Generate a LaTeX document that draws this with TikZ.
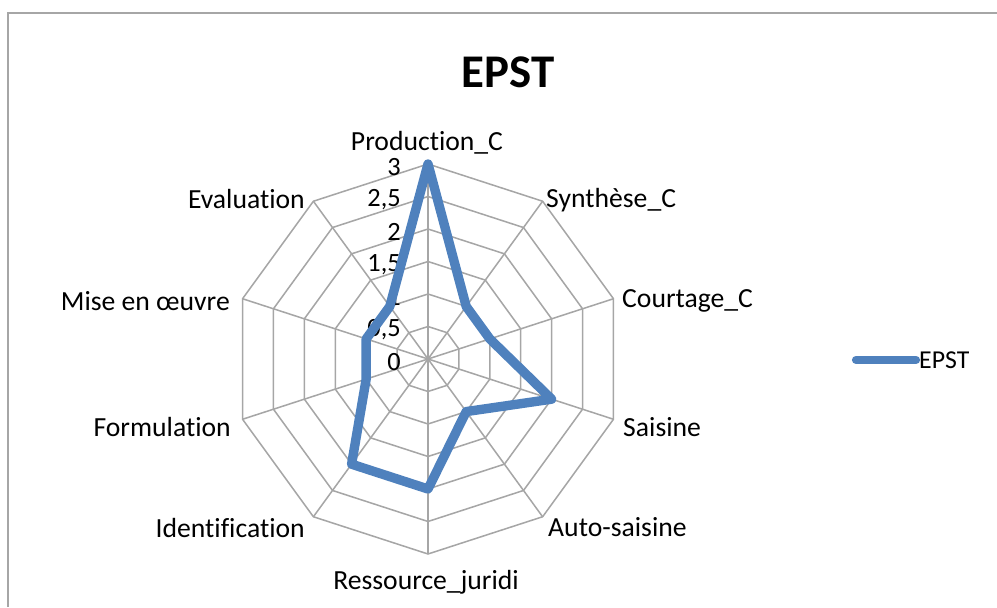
\documentclass[tikz,border=0pt]{standalone}
\usepackage{fontspec}
\setmainfont[Ligatures=NoCommon]{Carlito}
\definecolor{serieblue}{HTML}{4F81BD}
\definecolor{gridgray}{HTML}{A6A6A6}
\tikzset{
	grid line/.style={draw=gridgray, line width=1.3pt},
	serie line/.style={draw=serieblue, line width=8pt, line join=round},
	axis label/.style={font=\fontsize{23.6}{28}\selectfont, inner sep=0pt},
	tick label/.style={font=\fontsize{22.5}{26}\selectfont, inner sep=0pt, anchor=east},
}
\begin{document}
\begin{tikzpicture}[x=0.03cm,y=0.03cm]
	\useasboundingbox (0,0) rectangle (997,607);
	% chart frame
	\draw[gridgray, line width=1.8pt] (8,0) -- (8,594) -- (997,594);
	\node[font=\bfseries\fontsize{40}{48}\selectfont] (title) at (508,535) {EPST};
	\begin{scope}[shift={(428,248)}]
		\coordinate (O) at (0,0);
		% rings and spokes
		\foreach \k in {1,...,6}
			\draw[grid line] (90:\k*32.5) \foreach \a in {54,18,...,-234} { -- (\a:\k*32.5) } -- cycle;
		\foreach \a [count=\i] in {90,54,...,-234}
			\draw[grid line] (O) -- (\a:195) coordinate (tip\i);
		% scale
		\foreach \t/\lab in {0/0, 1/{0,5}, 2/1, 3/{1,5}, 4/2, 5/{2,5}, 6/3}
			\node[tick label] (tick\t) at (-27,\t*32.5-3) {\lab};
		% values
		\foreach \a/\v [count=\i] in {90/3, 54/1, 18/1, -18/2, -54/1, -90/2, -126/2, -162/1, -198/1, -234/1}
			\coordinate (p\i) at (\a:\v*65);
		\draw[serie line] (p1) -- (p2) -- (p3) -- (p4) -- (p5) -- (p6) -- (p7) -- (p8) -- (p9) -- (p10) -- cycle;
		% axis names
		\node[axis label] (lab1) at (-1,216) {Production\_C};
		\node[axis label, anchor=west] (lab2) at (118,159) {Synthèse\_C};
		\node[axis label, anchor=west] (lab3) at (194,58) {Courtage\_C};
		\node[axis label, anchor=west] (lab4) at (195,-68) {Saisine};
		\node[axis label, anchor=west] (lab5) at (120,-168) {Auto-saisine};
		\node[axis label] (lab6) at (-2,-223) {Ressource\_juridi};
		\node[axis label, anchor=east] (lab7) at (-123,-169) {Identification};
		\node[axis label, anchor=east] (lab8) at (-197,-68) {Formulation};
		\node[axis label, anchor=east] (lab9) at (-198,58) {Mise en œuvre};
		\node[axis label, anchor=east] (lab10) at (-123,160) {Evaluation};
	\end{scope}
	% legend
	\coordinate (leg a) at (856,247);
	\coordinate (leg b) at (916,247);
	\draw[serie line, line width=7pt, line cap=round] (leg a) -- (leg b);
	\node[axis label, font=\fontsize{22}{26}\selectfont, anchor=west] (leg text) at (919,247) {EPST};
\end{tikzpicture}
\end{document}
